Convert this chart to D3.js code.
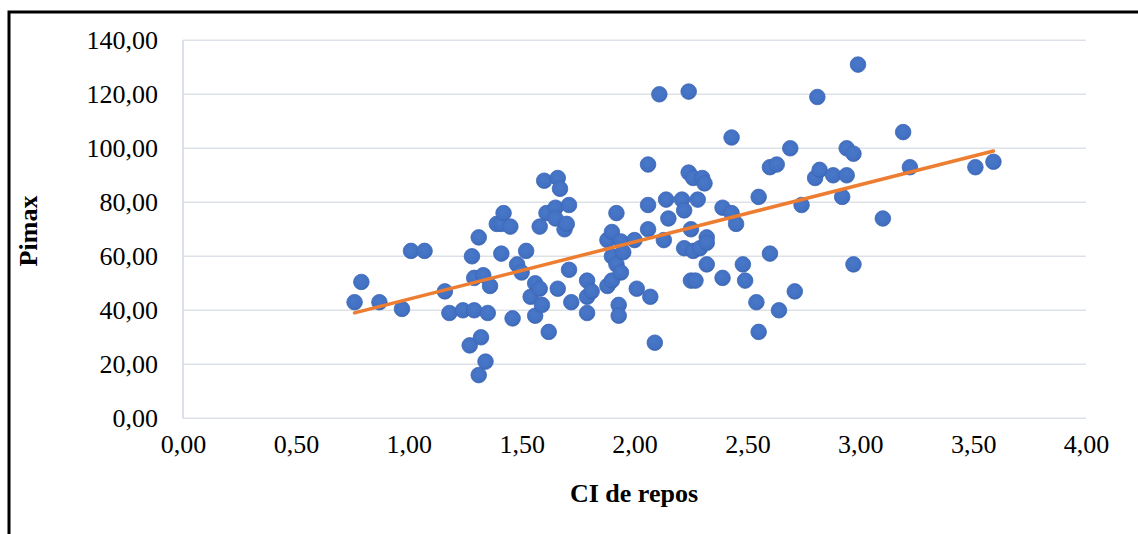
<!DOCTYPE html>
<html><head><meta charset="utf-8">
<script src="https://cdn.jsdelivr.net/npm/d3@7"></script>
<style>html,body{margin:0;padding:0;background:#fff;}svg{display:block;}</style>
</head><body>
<script>
const ciRepos = [0.76,0.79,0.87,0.97,1.01,1.07,1.16,1.18,1.24,1.27,1.28,1.29,1.29,1.31,1.31,1.32,1.33,1.34,1.35,1.36,1.39,1.41,1.41,1.42,1.45,1.46,1.48,1.50,1.52,1.54,1.56,1.56,1.58,1.58,1.59,1.60,1.61,1.62,1.65,1.65,1.66,1.66,1.67,1.69,1.70,1.71,1.71,1.72,1.79,1.79,1.79,1.81,1.88,1.88,1.90,1.90,1.90,1.92,1.92,1.93,1.93,1.94,1.94,1.95,2.00,2.01,2.06,2.06,2.06,2.07,2.09,2.11,2.13,2.14,2.15,2.21,2.22,2.22,2.24,2.24,2.25,2.25,2.26,2.26,2.27,2.28,2.29,2.30,2.31,2.32,2.32,2.32,2.39,2.39,2.43,2.43,2.45,2.48,2.49,2.54,2.55,2.55,2.60,2.60,2.63,2.64,2.69,2.71,2.74,2.80,2.81,2.82,2.88,2.92,2.94,2.94,2.97,2.97,2.99,3.10,3.19,3.22,3.51,3.59];
const pimax = [43,50.5,43,40.5,62,62,47,39,40,27,60,40,52,67,16,30,53,21,39,49,72,72,61,76,71,37,57,54,62,45,50,38,48,71,42,88,76,32,78,74,89,48,85,70,72,79,55,43,51,45,39,47,49,66,69,60,51,76,57,42,38,65.5,54,61.5,66,48,94,79,70,45,28,120,66,81,74,81,77,63,121,91,70,51,89,62,51,81,63,89,87,67,65,57,78,52,104,76,72,57,51,43,82,32,93,61,94,40,100,47,79,89,119,92,90,82,100,90,98,57,131,74,106,93,93,95];
const xTicks = [0,0.5,1,1.5,2,2.5,3,3.5,4];
const yTicks = [0,20,40,60,80,100,120,140];
const xTitle = "CI de repos";
const yTitle = "Pimax";

const W = 1138, H = 534;
const svg = d3.select("body").append("svg").attr("width", W).attr("height", H);
svg.append("rect").attr("width", W).attr("height", H).attr("fill", "#fff");

const x = d3.scaleLinear().domain([0, 4]).range([183, 1086]);
const y = d3.scaleLinear().domain([0, 140]).range([418.3, 40.3]);
const fmt = d => d.toFixed(2).replace(".", ",");
const font = "'Liberation Serif','Times New Roman',serif";

// frame (cropped border)
svg.append("path").attr("d", `M9,${H+5} L9,12 L${W+5},12`).attr("fill", "none").attr("stroke", "#000").attr("stroke-width", 3);

// gridlines
svg.append("g").selectAll("line").data(yTicks).join("line")
  .attr("x1", x(0)).attr("x2", x(4)).attr("y1", d => y(d)).attr("y2", d => y(d))
  .attr("stroke", "#dde1e8").attr("stroke-width", 1.5);
svg.append("line").attr("x1", x(0)).attr("x2", x(0)).attr("y1", y(0)).attr("y2", y(140))
  .attr("stroke", "#cfd6e2").attr("stroke-width", 1.5);

// axes labels via d3 axes
const yAxis = svg.append("g").attr("transform", `translate(${x(0)},0)`)
  .call(d3.axisLeft(y).tickValues(yTicks).tickFormat(fmt).tickSize(0).tickPadding(25));
yAxis.select(".domain").remove();
yAxis.selectAll("text").attr("font-family", font).attr("font-size", 26).attr("fill", "#000");

const xAxis = svg.append("g").attr("transform", `translate(0,${y(0)})`)
  .call(d3.axisBottom(x).tickValues(xTicks).tickFormat(fmt).tickSize(0).tickPadding(16));
xAxis.select(".domain").remove();
xAxis.selectAll("text").attr("font-family", font).attr("font-size", 26).attr("fill", "#000");

// titles
svg.append("text").attr("x", 634).attr("y", 502).attr("text-anchor", "middle")
  .attr("font-family", font).attr("font-weight", "bold").attr("font-size", 26).text(xTitle);
svg.append("text").attr("transform", "translate(37,231) rotate(-90)").attr("text-anchor", "middle")
  .attr("font-family", font).attr("font-weight", "bold").attr("font-size", 26).text(yTitle);

// points
const defs = svg.append("defs");
const grad = defs.append("radialGradient").attr("id", "dot").attr("cx", "45%").attr("cy", "40%").attr("r", "60%");
grad.append("stop").attr("offset", "0%").attr("stop-color", "#4a78c9");
grad.append("stop").attr("offset", "80%").attr("stop-color", "#4270c2");
grad.append("stop").attr("offset", "100%").attr("stop-color", "#3a64b0");
const pts = ciRepos.map((c, i) => ({c, p: pimax[i]}));
svg.append("g").selectAll("circle").data(pts).join("circle")
  .attr("cx", d => x(d.c)).attr("cy", d => y(d.p)).attr("r", 7.8)
  .attr("fill", "url(#dot)").attr("stroke", "#3d68b8").attr("stroke-width", 0.8);

// linear trend line (least squares)
const mx = d3.mean(pts, d => d.c), my = d3.mean(pts, d => d.p);
const slope = d3.sum(pts, d => (d.c - mx) * (d.p - my)) / d3.sum(pts, d => (d.c - mx) ** 2);
const icpt = my - slope * mx;
const [x0, x1] = d3.extent(ciRepos);
svg.append("line").attr("x1", x(x0)).attr("y1", y(icpt + slope * x0))
  .attr("x2", x(x1)).attr("y2", y(icpt + slope * x1))
  .attr("stroke", "#ED7D31").attr("stroke-width", 3.5).attr("stroke-linecap", "round");
</script>
</body></html>
